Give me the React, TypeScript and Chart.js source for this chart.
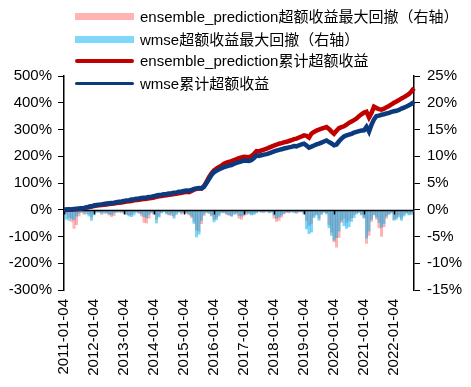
import React, { useEffect, useRef } from "react";
import { Chart, registerables } from "chart.js";

Chart.register(...registerables);

// Monthly categories: 2011-01 .. 2022-09
const startYear = 2011;
const endYear = 2022;
const endMonth = 9;
const categories: string[] = [];
for (let y = startYear; y <= endYear; y++) {
  for (let m = 1; m <= 12; m++) {
    if (y === endYear && m > endMonth) break;
    categories.push(`${y}-${String(m).padStart(2, "0")}`);
  }
}

const yearTickLabels = [
  "2011-01-04", "2012-01-04", "2013-01-04", "2014-01-04", "2015-01-04", "2016-01-04",
  "2017-01-04", "2018-01-04", "2019-01-04", "2020-01-04", "2021-01-04", "2022-01-04",
];

const leftTicks = [-300, -200, -100, 0, 100, 200, 300, 400, 500];
const rightTicks = [-15, -10, -5, 0, 5, 10, 15, 20, 25];

// cumulative excess return (%), left axis
const wmseCum = [
  0, 1, 2, 1, 3, 4, 5, 6, 7, 9, 11, 13,
  16, 18, 19, 20, 22, 23, 24, 25, 26, 28, 30, 31,
  33, 35, 36, 38, 39, 41, 42, 44, 45, 46, 48, 49,
  51, 53, 55, 56, 58, 59, 61, 62, 64, 65, 67, 68,
  70, 72, 71, 74, 78, 80, 81, 80, 86, 100, 115, 130,
  140, 146, 151, 155, 159, 162, 165, 167, 172, 175, 178, 181,
  184, 183, 182, 186, 193, 203, 201, 204, 206, 208, 211, 214,
  218, 221, 224, 226, 229, 231, 233, 235, 238, 237, 241, 244,
  247, 240, 232, 236, 240, 244, 247, 251, 255, 259, 253, 248,
  241, 244, 256, 266, 274, 278, 281, 284, 288, 291, 294, 296,
  297, 310, 292, 318, 338, 350, 352, 355, 357, 360, 362, 366,
  368, 370, 373, 378, 382, 386, 391, 396, 403,
];

const ensembleCum = [
  0, 0, 1, 0, 1, 2, 3, 5, 6, 8, 10, 12,
  14, 16, 17, 18, 19, 20, 21, 22, 23, 25, 26, 27,
  29, 31, 32, 33, 35, 36, 37, 39, 40, 41, 43, 44,
  46, 48, 50, 51, 53, 54, 56, 57, 59, 60, 62, 63,
  65, 67, 66, 70, 75, 78, 80, 79, 88, 104, 122, 136,
  147, 154, 160, 165, 172, 176, 179, 182, 186, 189, 193, 196,
  198, 197, 196, 201, 209, 219, 218, 222, 225, 228, 232, 236,
  240, 243, 247, 249, 252, 254, 257, 260, 264, 266, 270, 274,
  278, 276, 270, 285, 291, 296, 300, 303, 306, 309, 302, 292,
  284, 295, 305, 309, 312, 318, 325, 330, 335, 341, 350, 357,
  363, 366, 345, 362, 385, 380, 376, 374, 378, 383, 388, 394,
  400, 405, 410, 416, 421, 427, 433, 443, 454,
];

// max drawdown of excess return (%), right axis
const ensembleDD = [
  -0.3, -0.8, -1.5, -2.2, -3.5, -2.8, -1.2, -0.5, -0.9, -0.4, -0.8, -1.4,
  -0.6, -0.3, -0.5, -0.9, -0.4, -0.7, -1.0, -1.3, -1.1, -0.5, -0.3, -0.6,
  -0.4, -0.8, -1.0, -0.9, -0.5, -0.3, -0.7, -1.2, -2.4, -2.5, -1.6, -0.6,
  -0.9, -1.8, -1.2, -0.5, -0.3, -0.6, -0.9, -1.1, -1.2, -0.6, -0.4, -0.8,
  -0.5, -0.7, -1.0, -1.5, -2.2, -3.8, -4.0, -2.6, -1.1, -0.4, -0.6, -1.2,
  -1.8, -1.5, -0.9, -0.4, -0.6, -0.9, -1.0, -1.2, -0.7, -0.8, -1.6, -1.8,
  -1.2, -0.9, -0.6, -0.8, -0.7, -0.5, -0.3, -0.4, -0.6, -0.3, -0.5, -0.4,
  -1.6, -2.2, -2.0, -1.4, -0.8, -0.5, -0.6, -0.3, -0.4, -0.7, -0.5, -0.3,
  -0.6, -2.0, -3.0, -2.6, -1.2, -0.8, -1.6, -0.7, -0.4, -0.6, -2.8, -4.2,
  -6.0, -7.0, -5.2, -2.4, -1.6, -2.4, -2.0, -1.5, -1.0, -0.6, -0.4, -0.8,
  -1.4, -6.3, -4.8, -2.2, -1.0, -1.8, -3.4, -5.0, -3.2, -1.6, -0.8, -0.5,
  -1.8, -1.4, -1.0, -1.6, -0.9, -0.5, -0.8, -0.6, -0.3,
];

const wmseDD = [
  -0.5, -1.8, -2.0, -1.6, -1.9, -1.2, -0.7, -0.4, -0.6, -0.8, -1.2, -2.0,
  -1.0, -0.5, -0.4, -0.6, -0.7, -0.5, -0.8, -0.9, -0.6, -0.4, -0.5, -0.3,
  -0.6, -0.9, -1.2, -1.3, -1.0, -0.5, -0.6, -0.8, -1.3, -1.5, -0.9, -0.5,
  -0.7, -2.5, -1.4, -0.6, -0.4, -0.8, -1.0, -0.7, -1.6, -0.9, -0.5, -0.6,
  -0.4, -0.6, -0.8, -1.2, -2.6, -5.1, -4.6, -2.0, -0.8, -0.5, -0.7, -1.0,
  -2.3, -1.9, -1.2, -0.6, -0.5, -0.7, -1.0, -1.2, -0.9, -0.6, -1.1, -1.2,
  -0.9, -0.6, -0.8, -1.0, -0.9, -0.6, -0.4, -0.5, -0.4, -0.3, -0.6, -0.5,
  -1.0, -1.6, -1.4, -1.0, -0.7, -0.4, -0.5, -0.4, -0.6, -0.5, -0.3, -0.4,
  -0.8, -3.6, -4.5, -4.2, -1.5, -1.0, -2.0, -0.9, -0.5, -0.8, -3.4, -4.8,
  -5.7, -5.2, -4.0, -2.0, -3.0, -3.5, -3.2, -2.2, -1.5, -0.8, -0.6, -1.0,
  -1.6, -5.3, -4.0, -1.8, -0.9, -1.4, -2.4, -3.3, -2.6, -1.2, -0.9, -0.6,
  -2.0, -1.8, -1.4, -2.0, -1.2, -0.7, -1.0, -0.9, -0.4,
];

const seriesNames = [
  "ensemble_prediction超额收益最大回撤（右轴）",
  "wmse超额收益最大回撤（右轴）",
  "ensemble_prediction累计超额收益",
  "wmse累计超额收益",
];

const PINK = "rgba(255,0,0,0.3)";
const LIGHTBLUE = "rgba(0,176,240,0.5)";
const RED = "#C00000";
const NAVY = "#0B3A7E";

const FONT = '"Liberation Sans", Arial, Helvetica, sans-serif';

const zeroAxisPlugin = {
  id: "zeroAxis",
  afterDatasetDraw(chart: any, args: any) {
    if (args.index !== 1) return;
    const { ctx, chartArea, scales } = chart;
    const y0 = Math.round(scales.y.getPixelForValue(0)) + 0.5;
    ctx.save();
    ctx.strokeStyle = "#000";
    ctx.lineWidth = 1.5;
    ctx.beginPath();
    ctx.moveTo(chartArea.left, y0);
    ctx.lineTo(chartArea.right, y0);
    ctx.stroke();
    ctx.beginPath();
    for (let i = 0; i < categories.length; i += 12) {
      const x = Math.round(scales.x.getPixelForValue(i)) + 0.5;
      ctx.moveTo(x, y0);
      ctx.lineTo(x, y0 + 4);
    }
    ctx.stroke();
    ctx.restore();
  },
};

function LegendItem(props: { top: number; kind: "bar" | "line"; color: string; text: string }) {
  const { top, kind, color, text } = props;
  return (
    <div style={{ position: "absolute", left: 0, top: top - 10, height: 20, width: 471 }}>
      {kind === "bar" ? (
        <div style={{ position: "absolute", left: 75, top: 6.5, width: 59, height: 7, background: color }} />
      ) : (
        <div style={{ position: "absolute", left: 75, top: 8.2, width: 59, height: 3.6, background: color, borderRadius: 2 }} />
      )}
      <div
        style={{
          position: "absolute",
          left: 140,
          top: 0,
          height: 20,
          lineHeight: "20px",
          fontSize: 15,
          fontFamily: '"Liberation Sans", Arial, "Noto Sans CJK SC", sans-serif',
          color: "#000",
          whiteSpace: "nowrap",
        }}
      >
        {text}
      </div>
    </div>
  );
}

export default function App() {
  const canvasRef = useRef<HTMLCanvasElement | null>(null);

  useEffect(() => {
    if (!canvasRef.current) return;
    Chart.defaults.font.family = FONT;
    Chart.defaults.font.size = 15;
    Chart.defaults.color = "#000";

    const chart = new Chart(canvasRef.current, {
      type: "bar",
      data: {
        labels: categories,
        datasets: [
          {
            type: "bar",
            label: seriesNames[0],
            data: ensembleDD,
            yAxisID: "y1",
            backgroundColor: PINK,
            borderWidth: 0,
            barPercentage: 1,
            categoryPercentage: 1,
            inflateAmount: 0.25,
            grouped: false,
            order: 3,
          } as any,
          {
            type: "bar",
            label: seriesNames[1],
            data: wmseDD,
            yAxisID: "y1",
            backgroundColor: LIGHTBLUE,
            borderWidth: 0,
            barPercentage: 1,
            categoryPercentage: 1,
            inflateAmount: 0.25,
            grouped: false,
            order: 2,
          } as any,
          {
            type: "line",
            label: seriesNames[2],
            data: ensembleCum,
            yAxisID: "y",
            borderColor: RED,
            backgroundColor: RED,
            borderWidth: 4.5,
            pointRadius: 0,
            tension: 0,
            order: 1,
          } as any,
          {
            type: "line",
            label: seriesNames[3],
            data: wmseCum,
            yAxisID: "y",
            borderColor: NAVY,
            backgroundColor: NAVY,
            borderWidth: 4.5,
            pointRadius: 0,
            tension: 0,
            order: 0,
          } as any,
        ],
      },
      options: {
        responsive: false,
        animation: false,
        events: [],
        layout: { padding: { top: 76, left: 0, right: 0, bottom: 0 } },
        plugins: {
          legend: { display: false },
          tooltip: { enabled: false },
          title: { display: false },
        },
        scales: {
          x: {
            type: "category",
            offset: false,
            border: { display: false },
            grid: { display: true, drawOnChartArea: false, drawTicks: false, color: "rgba(0,0,0,0)" },
            ticks: {
              autoSkip: false,
              maxRotation: 90,
              minRotation: 90,
              padding: 9,
              font: { size: 15, family: FONT },
              color: "#000",
              callback: (_v: any, i: number) => (i % 12 === 0 ? yearTickLabels[i / 12] : ""),
            },
            afterFit: (s: any) => {
              s.height = 97;
            },
          },
          y: {
            type: "linear",
            position: "left",
            min: leftTicks[0],
            max: leftTicks[leftTicks.length - 1],
            border: { display: true, color: "#000", width: 1.5 },
            grid: { display: true, drawOnChartArea: false, drawTicks: true, tickLength: 6, color: "#000", lineWidth: 1 },
            ticks: {
              stepSize: 100,
              padding: 6,
              font: { size: 15, family: FONT },
              color: "#000",
              callback: (v: any) => `${v}%`,
            },
            afterFit: (s: any) => {
              s.width = 64;
            },
          },
          y1: {
            type: "linear",
            position: "right",
            min: rightTicks[0],
            max: rightTicks[rightTicks.length - 1],
            border: { display: true, color: "#000", width: 1.5 },
            grid: { display: true, drawOnChartArea: false, drawTicks: true, tickLength: 6, color: "#000", lineWidth: 1 },
            ticks: {
              stepSize: 5,
              padding: 7,
              font: { size: 15, family: FONT },
              color: "#000",
              callback: (v: any) => `${v}%`,
            },
            afterFit: (s: any) => {
              s.width = 57;
            },
          },
        },
      } as any,
      plugins: [zeroAxisPlugin],
    });
    return () => chart.destroy();
  }, []);

  return (
    <div style={{ position: "absolute", left: 0, top: 0, width: 471, height: 387, background: "#fff" }}>
      <canvas ref={canvasRef} width={471} height={387} style={{ position: "absolute", left: 0, top: 0, width: 471, height: 387 }} />
      <LegendItem top={16.5} kind="bar" color="rgb(255,179,179)" text={seriesNames[0]} />
      <LegendItem top={39.5} kind="bar" color="rgb(128,216,248)" text={seriesNames[1]} />
      <LegendItem top={61} kind="line" color={RED} text={seriesNames[2]} />
      <LegendItem top={83.5} kind="line" color={NAVY} text={seriesNames[3]} />
    </div>
  );
}
